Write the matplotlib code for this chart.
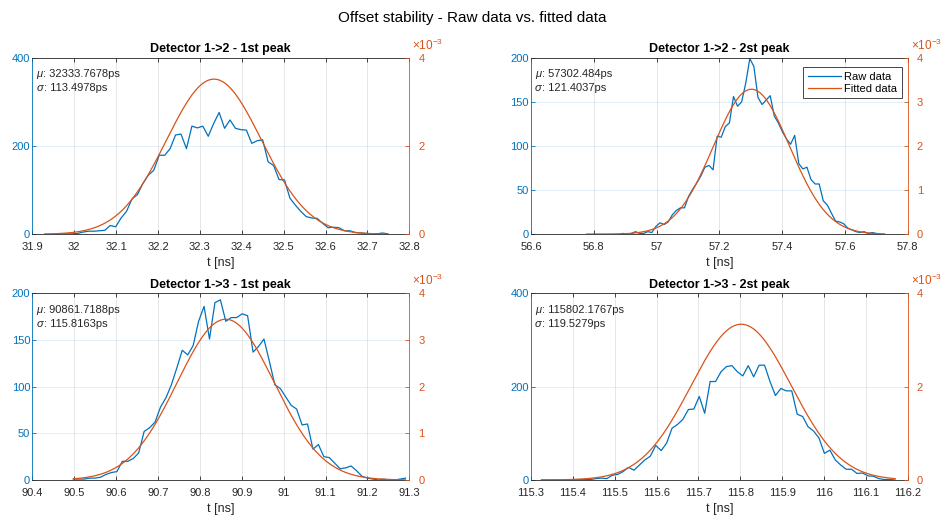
import numpy as np
import matplotlib
matplotlib.use("Agg")
import matplotlib.pyplot as plt
from matplotlib.ticker import FuncFormatter, FixedLocator

plt.rcParams['font.family'] = ['Liberation Sans', 'DejaVu Sans']
plt.rcParams['mathtext.fontset'] = 'custom'
plt.rcParams['mathtext.rm'] = 'Liberation Sans'
plt.rcParams['mathtext.it'] = 'Liberation Sans:italic'

BLUE = '#0072BD'
ORANGE = '#D95319'
DARK = '#262626'

# ---------------- data ----------------
titles = ["Detector 1->2 - 1st peak", "Detector 1->2 - 2st peak",
          "Detector 1->3 - 1st peak", "Detector 1->3 - 2st peak"]
mu_ps = [32333.7678, 57302.484, 90861.7188, 115802.1767]
mu_txt = ["32333.7678", "57302.484", "90861.7188", "115802.1767"]
sigma_ps = [113.4978, 121.4037, 115.8163, 119.5279]
sigma_txt = ["113.4978", "121.4037", "115.8163", "119.5279"]

# raw histogram counts (bin centres span x_first .. x_last, evenly spaced)
raw_tl = [0, 0, 0, 1, 1, 1, 2, 5, 7, 7, 8, 9, 20, 17, 37, 52, 80, 90, 115, 134,
          145, 179, 179, 194, 225, 227, 194, 245, 241, 245, 222, 251, 276, 240, 259, 240, 237, 236, 206, 212,
          214, 164, 156, 124, 123, 82, 66, 52, 40, 37, 36, 25, 15, 16, 15, 8, 8, 4, 3, 2,
          1, 1, 3, 1]
raw_tr = [0, 0, 0, 0, 0, 0, 0, 0, 0, 1, 0, 1, 3, 1, 1, 3, 2, 9, 13, 11,
          14, 22, 27, 30, 30, 43, 51, 58, 66, 76, 78, 73, 111, 110, 122, 126, 156, 145, 150, 171,
          199, 190, 155, 147, 152, 157, 134, 126, 116, 108, 102, 112, 80, 74, 76, 62, 57, 57, 38, 33,
          24, 15, 14, 12, 7, 5, 3, 2, 3, 1, 2, 1, 0, 0]
raw_bl = [1, 1, 1, 2, 2, 3, 6, 8, 9, 20, 20, 23, 29, 52, 56, 62, 78, 88, 102, 120,
          139, 134, 144, 170, 186, 151, 190, 193, 170, 174, 174, 178, 176, 137, 143, 151, 127, 102, 98, 89,
          80, 76, 59, 60, 33, 38, 25, 24, 18, 12, 13, 15, 10, 4, 2, 1, 0, 1, 0, 0,
          1, 2]
raw_br = [0, 0, 0, 0, 0, 0, 1, 1, 1, 1, 3, 4, 3, 10, 12, 18, 27, 21, 32, 43,
          51, 74, 63, 79, 111, 119, 130, 151, 152, 179, 143, 211, 211, 232, 243, 245, 232, 223, 245, 221,
          246, 246, 211, 181, 196, 191, 191, 141, 136, 114, 105, 90, 57, 64, 43, 32, 23, 23, 14, 15,
          9, 8, 3, 1, 1, 0]
raw_all = [raw_tl, raw_tr, raw_bl, raw_br]
x_first = [31.930, 56.777, 90.498, 115.325]
x_last = [32.749, 57.726, 91.291, 116.170]

xlims = [(31.9, 32.8), (56.6, 57.8), (90.4, 91.3), (115.3, 116.2)]
xticks = [[31.9, 32.0, 32.1, 32.2, 32.3, 32.4, 32.5, 32.6, 32.7, 32.8],
          [56.6, 56.8, 57.0, 57.2, 57.4, 57.6, 57.8],
          [90.4, 90.5, 90.6, 90.7, 90.8, 90.9, 91.0, 91.1, 91.2, 91.3],
          [115.3, 115.4, 115.5, 115.6, 115.7, 115.8, 115.9, 116.0, 116.1, 116.2]]
ylims_left = [400, 200, 200, 400]
yticks_left = [[0, 200, 400], [0, 50, 100, 150, 200], [0, 50, 100, 150, 200], [0, 200, 400]]
yticks_right = [[0, 0.002, 0.004], [0, 0.001, 0.002, 0.003, 0.004],
                [0, 0.001, 0.002, 0.003, 0.004], [0, 0.002, 0.004]]

# ---------------- layout (pixels of the 944x515 canvas) ----------------
W, H = 944, 515
boxes = [(32.3, 57.7, 409.3, 234.3), (531.0, 57.7, 907.7, 234.3),
         (32.3, 293.3, 409.3, 480.0), (531.0, 293.3, 907.7, 480.0)]

fig = plt.figure(figsize=(W / 100, H / 100), dpi=100)
fig.text(472 / W, 1 - 18 / H, "Offset stability - Raw data vs. fitted data",
         ha='center', va='center', fontsize=11, color='black')

xfmt = FuncFormatter(lambda v, p: f"{round(v, 4):g}")
rfmt = FuncFormatter(lambda v, p: f"{round(v * 1e3, 4):g}")


def stat_text(ax, greek, rest, ypix):
    g = ax.annotate(greek, xy=(0, 1), xycoords='axes fraction',
                    xytext=(4, ypix), textcoords='offset pixels', ha='left', va='baseline',
                    fontsize=8, style='italic', color=DARK)
    ax.annotate(rest, xy=(1, 1), xycoords=(g, 'axes fraction'),
                xytext=(0.5, ypix), textcoords='offset pixels', ha='left', va='baseline',
                fontsize=8, color=DARK)


for i in range(4):
    l, t, r, b = boxes[i]
    ax = fig.add_axes([l / W, 1 - b / H, (r - l) / W, (b - t) / H])
    ax2 = ax.twinx()

    y = np.array(raw_all[i], dtype=float)
    x = np.linspace(x_first[i], x_last[i], len(y))
    line_raw, = ax.plot(x, y, color=BLUE, lw=0.9, label='Raw data')

    mu = mu_ps[i] / 1000.0
    sg = sigma_ps[i] / 1000.0
    xf = np.linspace(x_first[i], x_last[i], 300)
    yf = np.exp(-0.5 * ((xf - mu) / sg) ** 2) / (sigma_ps[i] * np.sqrt(2 * np.pi))
    line_fit, = ax2.plot(xf, yf, color=ORANGE, lw=0.9, label='Fitted data')

    ax.set_xlim(*xlims[i])
    ax.set_ylim(0, ylims_left[i])
    ax2.set_ylim(0, 0.004)
    ax.xaxis.set_major_locator(FixedLocator(xticks[i]))
    ax.xaxis.set_major_formatter(xfmt)
    ax.yaxis.set_major_locator(FixedLocator(yticks_left[i]))
    ax2.yaxis.set_major_locator(FixedLocator(yticks_right[i]))
    ax2.yaxis.set_major_formatter(rfmt)

    # grid
    ax.set_axisbelow(True)
    ax.xaxis.grid(True, color=DARK, alpha=0.13, lw=0.6)
    ax.yaxis.grid(True, color=BLUE, alpha=0.13, lw=0.6)

    # spines
    for sp in ['top', 'bottom']:
        ax.spines[sp].set_color(DARK)
        ax.spines[sp].set_linewidth(0.6)
    ax.spines['left'].set_color(BLUE)
    ax.spines['left'].set_linewidth(0.6)
    ax.spines['right'].set_visible(False)
    for sp in ['top', 'bottom', 'left']:
        ax2.spines[sp].set_visible(False)
    ax2.spines['right'].set_color(ORANGE)
    ax2.spines['right'].set_linewidth(0.6)

    ax.tick_params(axis='x', which='both', direction='in', top=True, bottom=True,
                   length=3, width=0.6, color=DARK, labelcolor=DARK, labelsize=8, pad=5.5)
    ax.tick_params(axis='y', which='both', direction='in', left=True, right=False,
                   length=3, width=0.6, color=BLUE, labelcolor=BLUE, labelsize=8, pad=1.5)
    ax2.tick_params(axis='y', which='both', direction='in', right=True, left=False,
                    length=3, width=0.6, color=ORANGE, labelcolor=ORANGE, labelsize=8, pad=6.5)

    ax.set_title(titles[i], fontsize=9, fontweight='bold', color='black', pad=4)
    ax.set_xlabel("t [ns]", fontsize=9, color=DARK, labelpad=4)

    ax2.annotate(r"$\times10^{-3}$", xy=(1, 1), xycoords='axes fraction',
                 xytext=(3, 5), textcoords='offset pixels', ha='left', va='bottom',
                 color=ORANGE, fontsize=8.5)

    stat_text(ax2, "μ", ": " + mu_txt[i] + "ps", -19.5)
    stat_text(ax2, "σ", ": " + sigma_txt[i] + "ps", -33.5)

    if i == 1:
        leg = ax2.legend(handles=[line_raw, line_fit], loc='upper right',
                         bbox_to_anchor=(901.7 / W, 1 - 67.3 / H),
                         bbox_transform=fig.transFigure, borderaxespad=0,
                         fontsize=8, handlelength=3.0, handletextpad=0.3,
                         labelspacing=0.2, borderpad=0.4, fancybox=False,
                         framealpha=1, edgecolor=DARK)
        leg.get_frame().set_linewidth(0.6)

fig.savefig("out.png", dpi=100)
